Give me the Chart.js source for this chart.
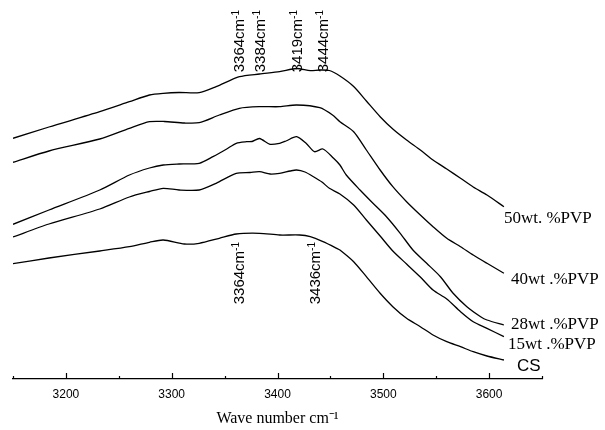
<!DOCTYPE html>
<html>
<head>
<meta charset="utf-8">
<script src="https://cdn.jsdelivr.net/npm/chart.js@4"></script>
<style>
  html, body { margin: 0; padding: 0; background: #fff; }
  canvas { display: block; }
</style>
</head>
<body>
<canvas id="c" width="605" height="430"></canvas>
<script>
// ---- Data (wavenumber cm-1, relative intensity a.u.) ----
const seriesNames = ['50wt. %PVP', '40wt .%PVP', '28wt .%PVP', '15wt .%PVP', 'CS'];

const wn50 = [3150,3184,3232,3260,3279,3292,3307,3326,3342,3364,3383,3402,3418,3431,3440,3449,3459,3472,3484,3497,3509,3522,3535,3547,3560,3573,3585,3598,3614];
const int50 = [240.7,252,267.3,277.3,284,285.7,286.5,286.3,292.3,302.3,305,307.3,310.5,308.3,309,308.5,303,292.5,278,262.3,250,239,229,219,210,200.7,192,184,172.3];

const wn40 = [3150,3184,3232,3260,3279,3293,3312,3326,3345,3364,3383,3402,3418,3440,3452,3459,3472,3484,3497,3509,3522,3535,3547,3560,3573,3585,3598,3614];
const int40 = [216.7,228,240,250.7,257.3,257.5,256,256.3,264,270.7,272.3,272.3,274,271.3,264,257.3,247.3,229,209,192.3,177.3,164,152.3,140.7,132.3,124,115.7,105.7];

const wn28 = [3150,3184,3232,3260,3279,3292,3307,3326,3339,3352,3361,3371,3376,3383,3393,3402,3408,3418,3427,3435,3443,3453,3459,3465,3478,3490,3503,3516,3528,3541,3554,3566,3579,3592,3598,3614];
const int28 = [154.7,169,189,204,211,214,215,215.7,222.3,230,235.7,237.3,237.5,240.5,234.7,235.7,238,242.3,235.7,227.3,230,220.7,214,204,189,176,162.3,145.7,129,115.7,102.3,85.7,72.3,62.3,59,54];

const wn15 = [3150,3184,3232,3260,3279,3292,3307,3326,3342,3361,3374,3383,3393,3402,3412,3418,3426,3434,3442,3449,3459,3472,3484,3497,3509,3522,3535,3547,3560,3573,3585,3598,3614];
const int15 = [142,155,170,182,187.5,190.7,189,189,195.7,205.7,206.5,207.3,205,205.7,208,209,207,202.3,197,190.7,185,174,159,143,128,115,102,89,80,67.3,57.3,50.7,42.3];

const wnCS = [3150,3184,3232,3260,3279,3292,3312,3326,3345,3361,3383,3402,3421,3431,3443,3456,3459,3472,3484,3497,3509,3522,3535,3547,3560,3573,3585,3598,3614];
const intCS = [115.3,121,128,132.3,136.7,139,135,135.7,140.7,145,145.7,144,144,142.3,137.3,130.7,129,117.3,102.3,85.7,72.3,60.7,52.3,44,37.3,32.3,27.3,23,19];

const tickValues = [3200, 3300, 3400, 3500, 3600];
const peaksTop = [3364, 3384, 3419, 3444];      // marked on 50wt.% curve
const peaksBottom = [3364, 3436];               // marked on CS curve

// ---- Build datasets ----
const wnList = [wn50, wn40, wn28, wn15, wnCS];
const intList = [int50, int40, int28, int15, intCS];
const labelOffsets = [[0, 12], [7, 6], [7, 0], [4, 7.5], [13, 6]];
const labelFonts = ['17px "Liberation Serif", "Times New Roman", serif',
                    '17px "Liberation Serif", "Times New Roman", serif',
                    '17px "Liberation Serif", "Times New Roman", serif',
                    '17px "Liberation Serif", "Times New Roman", serif',
                    '17px "Liberation Sans", Arial, sans-serif'];

const datasets = seriesNames.map((name, i) => ({
  label: name,
  data: wnList[i].map((x, j) => ({ x: x, y: intList[i][j] })),
  borderColor: '#000',
  borderWidth: 1.3,
  pointRadius: 0,
  tension: 0.25,
  fill: false
}));

const AXIS_MIN = 3150, AXIS_MAX = 3650;

const decorPlugin = {
  id: 'decor',
  afterDraw(chart) {
    const ctx = chart.ctx;
    const xs = chart.scales.x;
    const area = chart.chartArea;
    const yb = area.bottom;
    ctx.save();
    // inward tick marks
    ctx.strokeStyle = '#000';
    ctx.lineWidth = 1.2;
    for (let v = AXIS_MIN; v <= AXIS_MAX; v += 50) {
      const px = Math.round(xs.getPixelForValue(v)) + 0.5;
      const len = (v % 100 === 0) ? 6 : 3;
      ctx.beginPath();
      ctx.moveTo(px, yb);
      ctx.lineTo(px, yb - len);
      ctx.stroke();
    }
    // series labels at the right end of each curve
    ctx.fillStyle = '#000';
    ctx.textBaseline = 'middle';
    ctx.textAlign = 'left';
    chart.data.datasets.forEach((ds, i) => {
      const meta = chart.getDatasetMeta(i);
      const last = meta.data[meta.data.length - 1];
      ctx.font = labelFonts[i];
      ctx.fillText(ds.label, last.x + labelOffsets[i][0], last.y + labelOffsets[i][1]);
    });
    // vertical peak labels
    const drawRot = (wn, yTop) => {
      const px = xs.getPixelForValue(wn);
      const main = wn + 'cm';
      const sup = '-1';
      const fMain = '15px "Liberation Sans", Arial, sans-serif';
      const fSup = '10px "Liberation Sans", Arial, sans-serif';
      ctx.save();
      ctx.translate(px, yTop);
      ctx.rotate(-Math.PI / 2);
      ctx.font = fMain;
      const mw = ctx.measureText(main).width;
      ctx.font = fSup;
      const sw = ctx.measureText(sup).width;
      const total = mw + sw;
      ctx.textAlign = 'left';
      ctx.textBaseline = 'middle';
      ctx.font = fMain;
      ctx.fillText(main, -total, 0);
      ctx.font = fSup;
      ctx.fillText(sup, -total + mw, -3.5);
      ctx.restore();
    };
    peaksTop.forEach(w => drawRot(w, area.top + 10));
    peaksBottom.forEach(w => drawRot(w, area.top + 242));
    ctx.restore();
  }
};

new Chart(document.getElementById('c'), {
  type: 'line',
  data: { datasets: datasets },
  options: {
    responsive: false,
    animation: false,
    layout: { padding: { left: 13, right: 63, top: 0, bottom: 0 } },
    plugins: { legend: { display: false }, tooltip: { enabled: false } },
    scales: {
      x: {
        type: 'linear',
        min: AXIS_MIN,
        max: AXIS_MAX,
        afterBuildTicks: (s) => { s.ticks = tickValues.map(v => ({ value: v })); },
        afterFit: (s) => { s.height = 51; },
        grid: { display: false, drawTicks: false },
        border: { display: true, color: '#000', width: 1.2 },
        ticks: {
          padding: 8,
          color: '#000',
          font: { family: '"Liberation Sans", Arial, sans-serif', size: 12 },
          callback: (v) => String(v),
          maxRotation: 0
        },
        title: {
          display: true,
          text: 'Wave number cm⁻¹',
          color: '#000',
          font: { family: '"Liberation Serif", "Times New Roman", serif', size: 16 },
          padding: { top: 0, bottom: 2 }
        }
      },
      y: {
        display: false,
        min: 0,
        max: 379
      }
    }
  },
  plugins: [decorPlugin]
});
</script>
</body>
</html>
